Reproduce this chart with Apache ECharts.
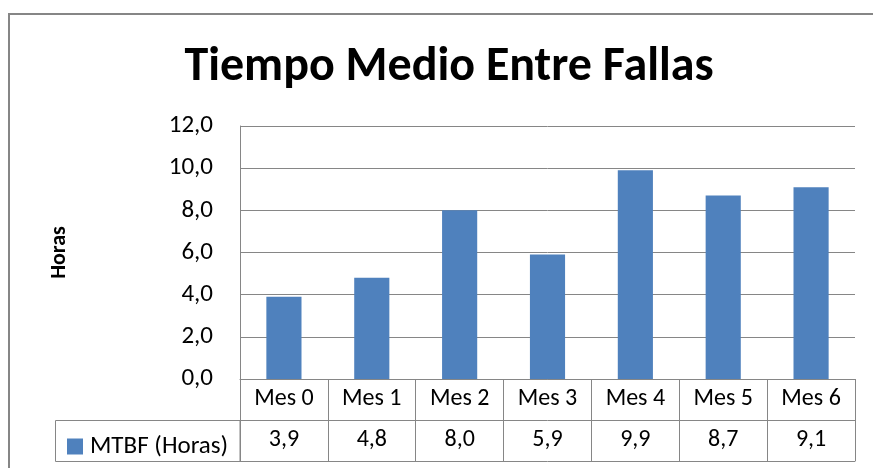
<!DOCTYPE html>
<html>
<head>
<meta charset="utf-8">
<title>Tiempo Medio Entre Fallas</title>
<script src="https://cdn.jsdelivr.net/npm/echarts@6/dist/echarts.min.js"></script>
<style>
    html, body { margin: 0; padding: 0; background: #fff; overflow: hidden; }
    #main { width: 873px; height: 468px; }
</style>
</head>
<body>
<div id="main"></div>
<script>
// datos de la tabla
var meses = ['Mes 0', 'Mes 1', 'Mes 2', 'Mes 3', 'Mes 4', 'Mes 5', 'Mes 6'];
var mtbf = [3.9, 4.8, 8.0, 5.9, 9.9, 8.7, 9.1];
var serieNombre = 'MTBF (Horas)';
var ejeY = { min: 0, max: 12, interval: 2 };

var FONT = 'Carlito, Lato, sans-serif';
var GRIS = '#868686';
var AZUL = '#4F81BD';
var TAM = 24;

function coma(v) {
    return Number(v).toFixed(1).replace('.', ',');
}

var chart = echarts.init(document.getElementById('main'), null, { renderer: 'canvas' });

var option = {
    animation: false,
    backgroundColor: '#fff',
    title: {
        text: 'Tiempo Medio Entre Fallas',
        left: 444,
        top: 39,
        textAlign: 'center',
        textStyle: { fontFamily: FONT, fontWeight: 'bold', fontSize: 48, color: '#000' }
    },
    legend: {
        data: [serieNombre],
        left: 62,
        top: 429,
        icon: 'rect',
        itemWidth: 16,
        itemHeight: 16,
        itemGap: 6,
        selectedMode: false,
        textStyle: { fontFamily: FONT, fontSize: 25, color: '#000', padding: [0, 0, 0, 2] }
    },
    grid: { left: 240, top: 126, right: 18, bottom: 89, containLabel: false },
    xAxis: [
        {
            type: 'category',
            data: meses,
            position: 'bottom',
            axisLine: { show: true, lineStyle: { color: GRIS, width: 1 } },
            axisTick: { show: true, interval: 0, length: 41, lineStyle: { color: GRIS } },
            axisLabel: { interval: 0, margin: 8, fontFamily: FONT, fontSize: TAM, color: '#000' }
        },
        {
            type: 'category',
            data: mtbf.map(coma),
            position: 'bottom',
            offset: 41,
            axisLine: { show: true, lineStyle: { color: GRIS, width: 1 } },
            axisTick: { show: true, interval: 0, length: 41, lineStyle: { color: GRIS } },
            axisLabel: { interval: 0, margin: 8, fontFamily: FONT, fontSize: TAM, color: '#000' }
        },
        {
            type: 'category',
            data: meses,
            position: 'bottom',
            offset: 82,
            axisLine: { show: true, lineStyle: { color: GRIS, width: 1 } },
            axisTick: { show: false },
            axisLabel: { show: false }
        }
    ],
    yAxis: {
        type: 'value',
        min: ejeY.min,
        max: ejeY.max,
        interval: ejeY.interval,
        name: 'Horas',
        nameLocation: 'middle',
        nameRotate: 90,
        nameGap: 170,
        nameTextStyle: { fontFamily: FONT, fontWeight: 'bold', fontSize: 22, color: '#000' },
        axisLine: { show: true, lineStyle: { color: GRIS, width: 1 } },
        axisTick: { show: false },
        axisLabel: { margin: 27, fontFamily: FONT, fontSize: 25, color: '#000', formatter: coma },
        splitLine: { show: true, lineStyle: { color: GRIS, width: 1 } }
    },
    series: [
        {
            name: serieNombre,
            type: 'bar',
            data: mtbf,
            barWidth: '40%',
            itemStyle: { color: AZUL }
        }
    ],
    graphic: [
        // borde del área del gráfico (solo izquierda y arriba visibles)
        {
            type: 'polyline',
            shape: { points: [[9, 468], [9, 14], [873, 14]] },
            style: { fill: null, stroke: GRIS, lineWidth: 2 },
            silent: true
        },
        // celda de la leyenda en la tabla de datos
        {
            type: 'rect',
            shape: { x: 55.5, y: 420.5, width: 184.5, height: 41 },
            style: { fill: null, stroke: GRIS, lineWidth: 1 },
            silent: true
        }
    ]
};

chart.setOption(option);
window.addEventListener('resize', function () { chart.resize(); });
</script>
</body>
</html>
